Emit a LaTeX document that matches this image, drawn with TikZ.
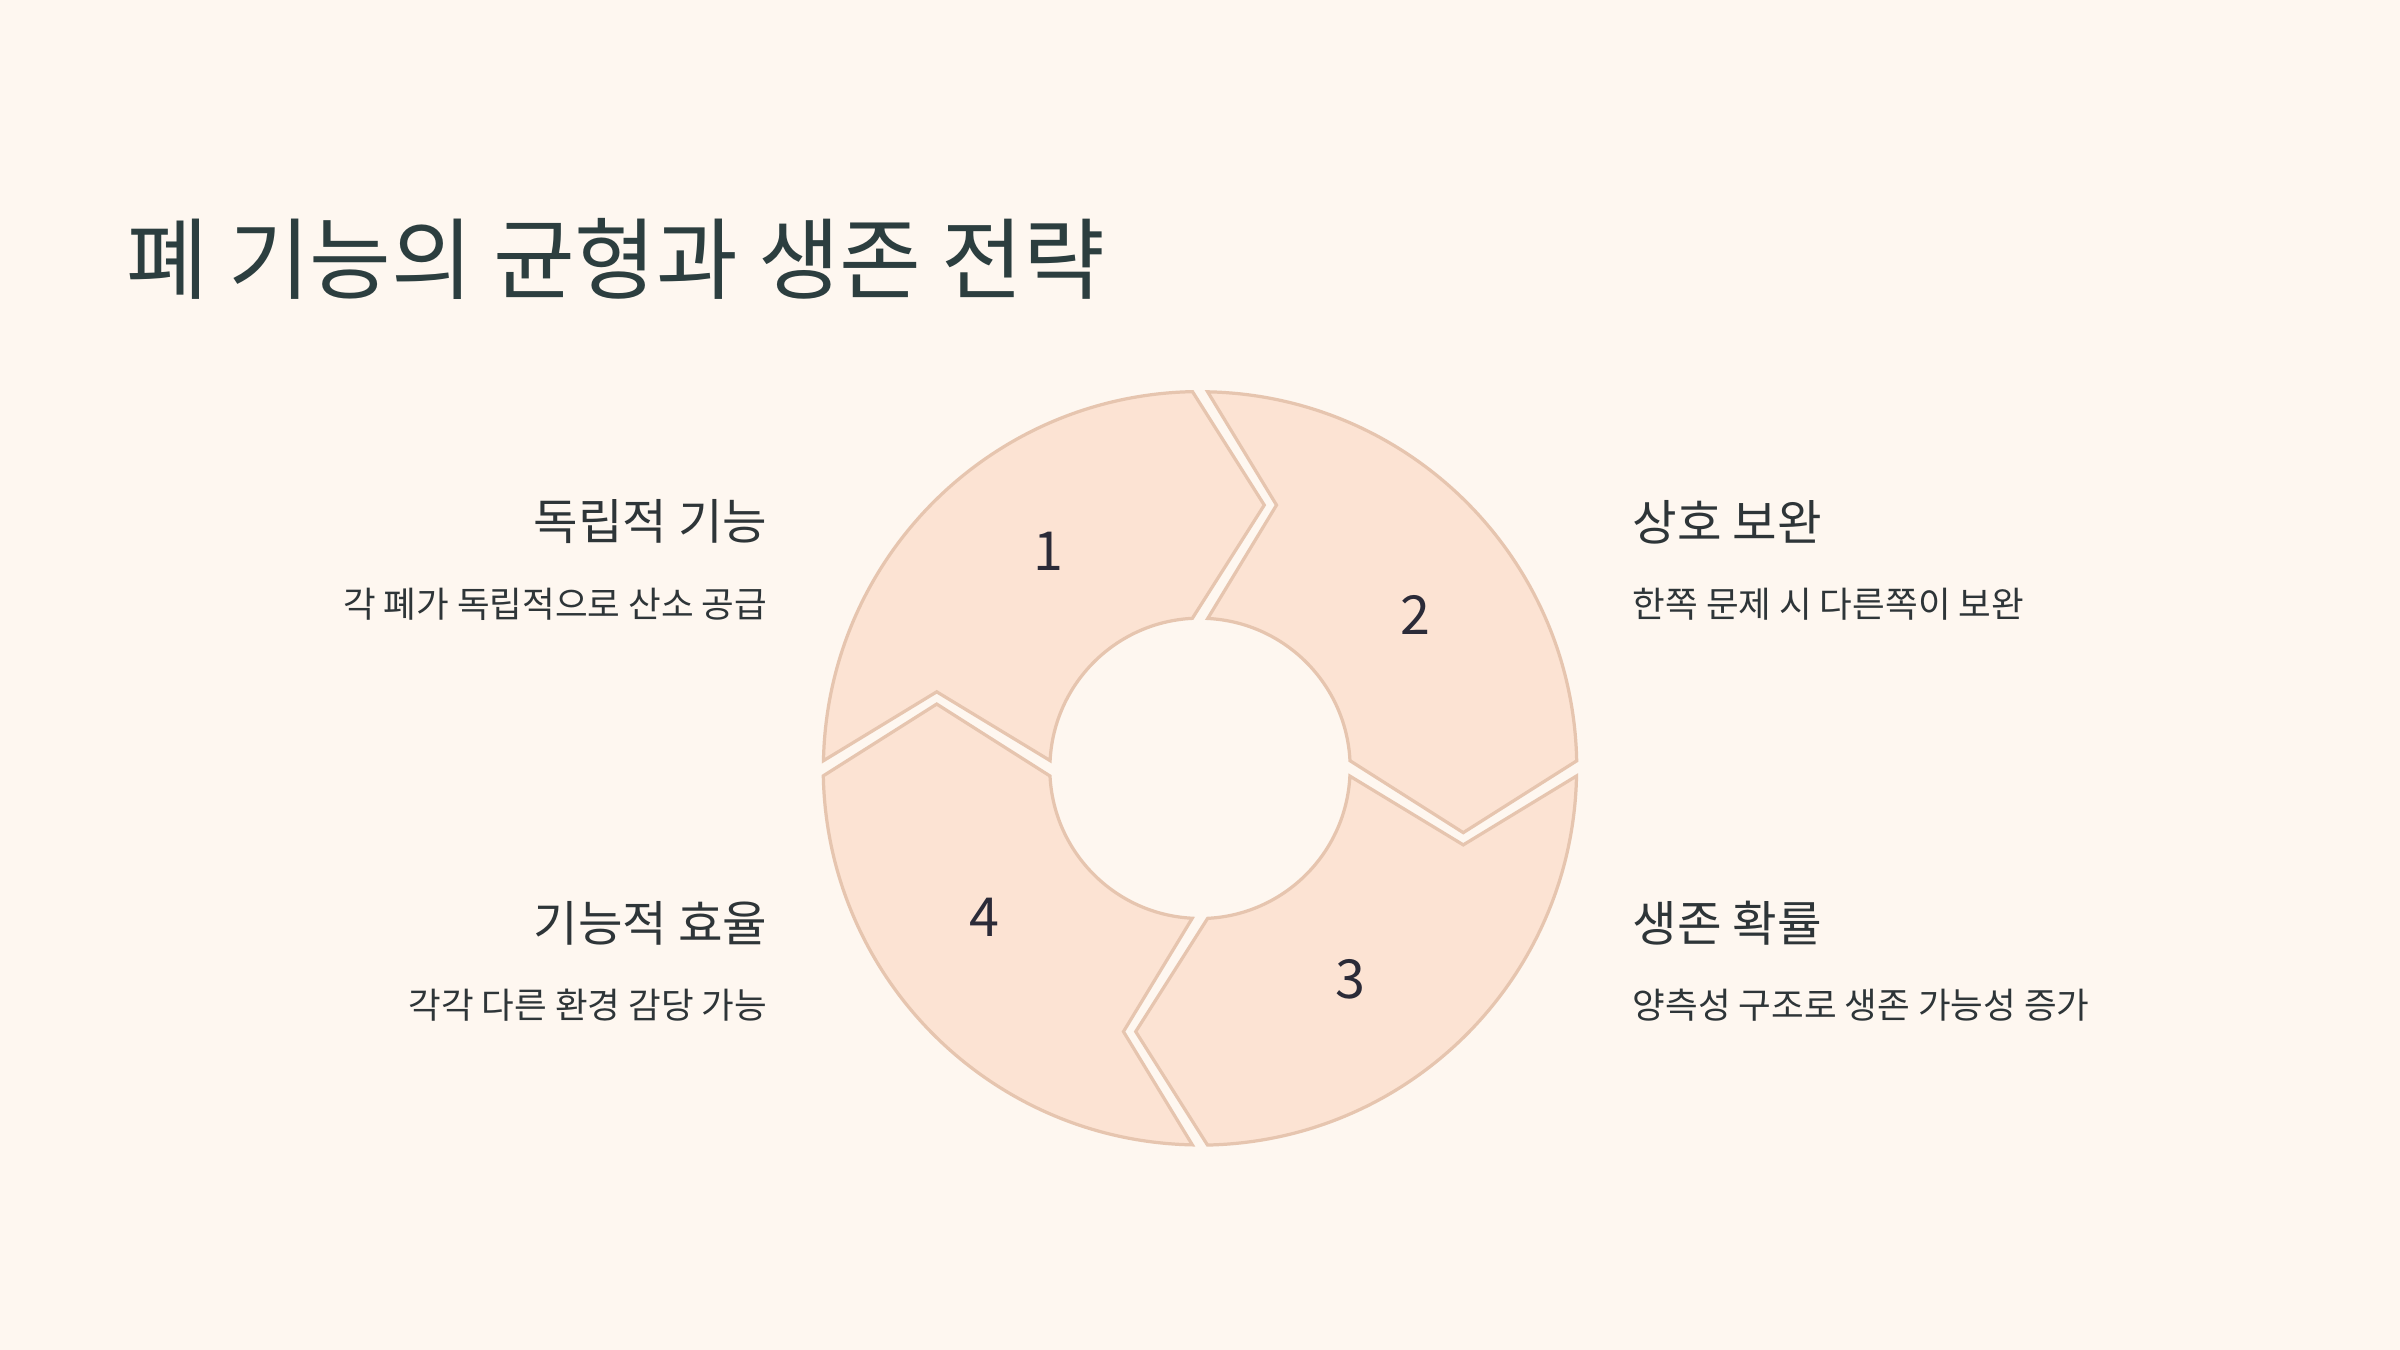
\documentclass[tikz,border=0pt]{standalone}
\usepackage{fontspec}
\setmainfont{Noto Sans CJK KR}
\begin{document}
\begin{tikzpicture}[x=0.01cm,y=0.01cm,
  seg/.style={fill=segfill,draw=segline,line width=0.6pt},
  head/.style={font=\fontsize{9}{11}\selectfont,text=txt,inner sep=0},
  body/.style={font=\fontsize{6.6}{8}\selectfont,text=txt,inner sep=0},
  num/.style={font=\fontsize{10}{12}\selectfont,text=numc,inner sep=0}]
\definecolor{bg}{HTML}{FEF7F0}
\definecolor{segfill}{HTML}{FCE3D3}
\definecolor{segline}{HTML}{E6C5AF}
\definecolor{txt}{HTML}{2E3538}
\definecolor{ttl}{HTML}{2C3E3F}
\definecolor{numc}{HTML}{2B2B38}
\fill[bg] (0,0) rectangle (1568,882);
\useasboundingbox (0,0) rectangle (1568,882);
\foreach \k in {0,1,2,3}{
\begin{scope}[shift={(784,380)},rotate=-90*\k]
\draw[seg] (-246,5) arc[start angle=178.84,end angle=91.16,radius=2.46cm]
  -- (42,172) -- (-5,98) arc[start angle=92.92,end angle=177.08,radius=0.98cm]
  -- (-172,50) -- cycle;
\end{scope}}
\node[num] (n1) at (685,522) {1};
\node[num] (n2) at (925,480) {2};
\node[num] (n3) at (882,242) {3};
\node[num] (n4) at (643,283) {4};
\node[anchor=west,inner sep=0,text=ttl,font=\fontsize{16.5}{20}\selectfont] (t) at (82,713) {폐 기능의 균형과 생존 전략};
\node[head,anchor=east] (h1) at (502,541) {독립적 기능};
\node[body,anchor=east] (b1) at (502,487) {각 폐가 독립적으로 산소 공급};
\node[head,anchor=west] (h2) at (1066,541) {상호 보완};
\node[body,anchor=west] (b2) at (1066,487) {한쪽 문제 시 다른쪽이 보완};
\node[head,anchor=east] (h4) at (502,279) {기능적 효율};
\node[body,anchor=east] (b4) at (502,225) {각각 다른 환경 감당 가능};
\node[head,anchor=west] (h3) at (1066,279) {생존 확률};
\node[body,anchor=west] (b3) at (1066,225) {양측성 구조로 생존 가능성 증가};
\end{tikzpicture}
\end{document}
